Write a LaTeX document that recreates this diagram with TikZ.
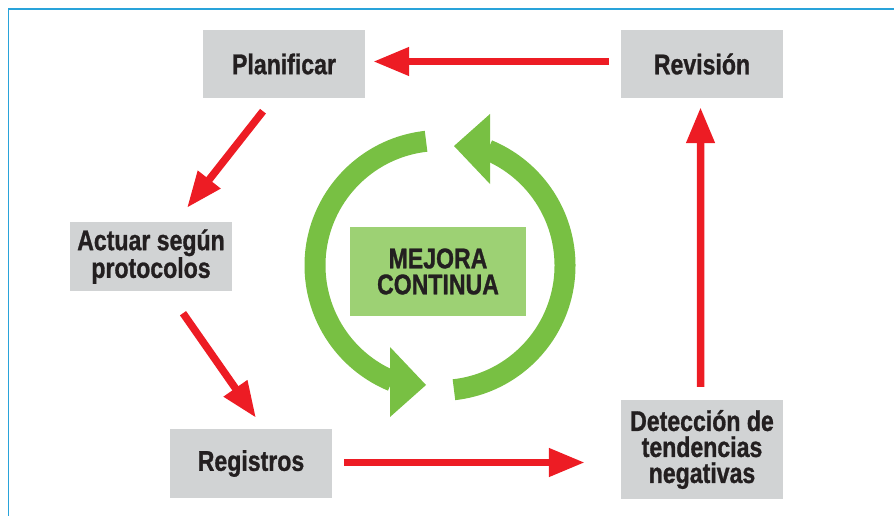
\documentclass[tikz,border=0pt]{standalone}
\usepackage{fontspec}
\setmainfont{Liberation Sans}[FakeStretch=0.81]
\usetikzlibrary{arrows.meta,calc}
\definecolor{boxgray}{HTML}{D1D3D4}
\definecolor{arrowred}{HTML}{ED1C24}
\definecolor{cyclegreen}{HTML}{78C043}
\definecolor{coregreen}{HTML}{9DD174}
\definecolor{inkdark}{HTML}{231F20}
\definecolor{framecyan}{HTML}{29A3DA}
\newfontfamily\heavyfont{Liberation Sans Bold}[FakeStretch=0.81, FakeBold=1.0]

\begin{document}
\begin{tikzpicture}[x=1pt,y=-1pt,
  stagebox/.style={fill=boxgray, minimum width=162pt, inner sep=0pt, align=center,
    text=inkdark, font=\heavyfont\fontsize{28.5}{26}\selectfont},
  corebox/.style={stagebox, fill=coregreen, minimum width=176pt, minimum height=89pt},
  flow/.style={draw=arrowred, line width=7.5pt, -{Triangle[length=36pt,width=27pt]}},
  cycle/.style={draw=cyclegreen, line width=21pt},
  cyclehead/.style={fill=cyclegreen}]
\useasboundingbox (0,0) rectangle (894,516);

% frame lines along the top and left
\draw[framecyan, line width=1.6pt] (8.5,516) -- (8.5,9) -- (894,9);

% stages
\node[stagebox, minimum height=68pt] (plan) at (284,64) {Planificar};
\node[stagebox, minimum height=68pt] (rev) at (702,64) {Revisión};
\node[stagebox, minimum height=69pt] (act) at (151,256.5) {Actuar según\\protocolos};
\node[stagebox, minimum height=69pt] (reg) at (251,463.5) {Registros};
\node[stagebox, minimum height=99pt] (det) at (702,449.5) {Detección de\\tendencias\\negativas};
\node[corebox] (core) at (438,271.5) {MEJORA\\CONTINUA};

% red flow between stages
\draw[flow] ($(rev.west)+(-12,-2.5)$) -- ($(plan.east)+(8,-2.5)$);
\draw[flow] ($(plan.south)+(-21,13)$) -- ($(act.north)+(36,-14)$);
\draw[flow] ($(act.south)+(32,22)$) -- ($(reg.north)+(5,-11)$);
\draw[flow] ($(reg.east)+(12,-1)$) -- ($(reg.east -| det.west)+(-36,-1)$);
\draw[flow] ($(det.north)+(-1.3,-13)$) -- ($(rev.south)+(-1.5,9)$);

% green cycle around the centre
\begin{scope}[shift={(core.center)}, shift={(2,-6)}, yscale=-1]
  \draw[cycle] (96.4:125) arc[start angle=96.4, end angle=247.5, radius=125];
  \fill[cyclehead] (-50,-81.5) -- (-14,-119.5) -- (-50,-151.5) -- cycle;
  \draw[cycle] (276.4:125) arc[start angle=276.4, end angle=427.5, radius=125];
  \fill[cyclehead] (50,81.5) -- (14,119.5) -- (50,151.5) -- cycle;
\end{scope}
\end{tikzpicture}
\end{document}
